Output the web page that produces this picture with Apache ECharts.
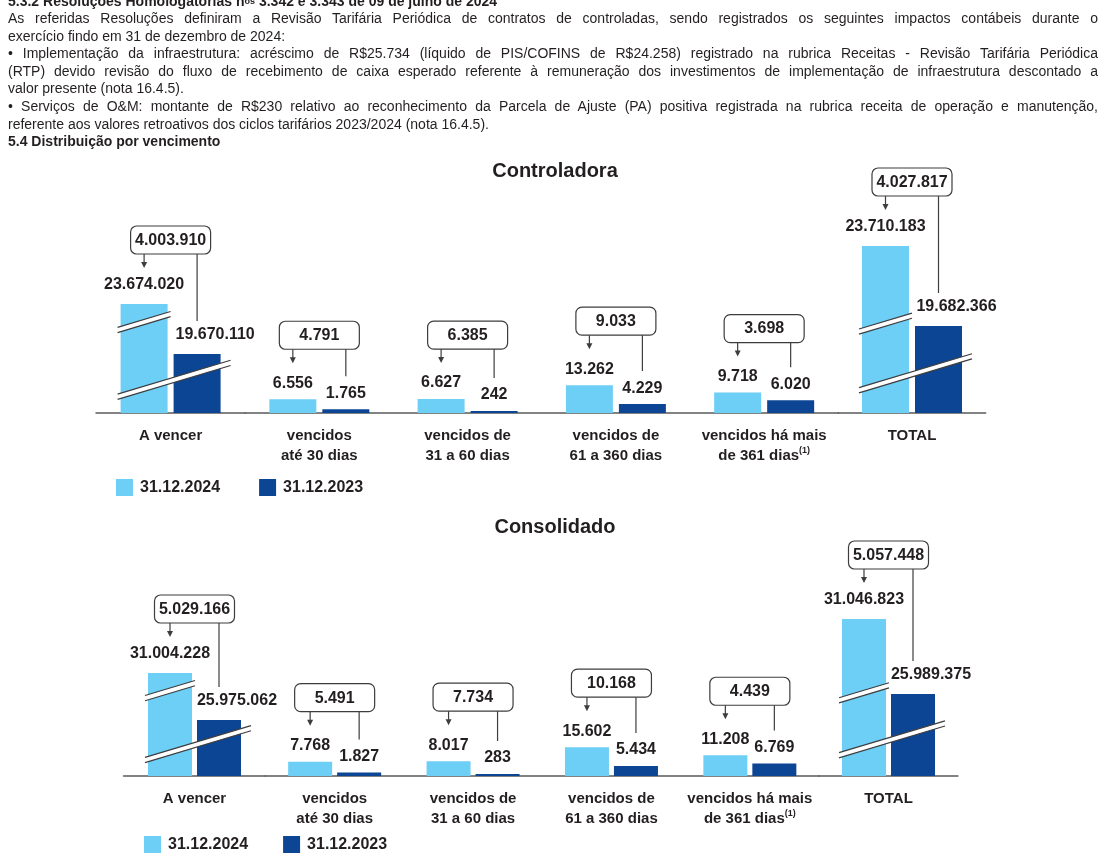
<!DOCTYPE html>
<html>
<head>
<meta charset="utf-8">
<script src="https://cdn.jsdelivr.net/npm/echarts@6/dist/echarts.min.js"></script>
<style>
html,body{margin:0;padding:0;background:#fff;}
#chart{position:absolute;left:0;top:0;width:1110px;height:856px;}
#text{position:absolute;left:8px;top:-7.5px;width:1090px;font-family:"Liberation Sans",Arial,Helvetica,sans-serif;font-size:14px;line-height:17.6px;color:#231f20;}
#text div{height:17.6px;overflow:visible;}
.j{text-align:justify;text-align-last:justify;}
.b{font-weight:bold;}
</style>
</head>
<body>
<div id="chart"></div>
<div id="text">
<div class="b">5.3.2 Resoluções Homologatórias n<span style="font-size:9px;vertical-align:top;">os</span> 3.342 e 3.343 de 09 de julho de 2024</div>
<div class="j">As referidas Resoluções definiram a Revisão Tarifária Periódica de contratos de controladas, sendo registrados os seguintes impactos contábeis durante o</div>
<div>exercício findo em 31 de dezembro de 2024:</div>
<div class="j">• Implementação da infraestrutura: acréscimo de R$25.734 (líquido de PIS/COFINS de R$24.258) registrado na rubrica Receitas - Revisão Tarifária Periódica</div>
<div class="j">(RTP) devido revisão do fluxo de recebimento de caixa esperado referente à remuneração dos investimentos de implementação de infraestrutura descontado a</div>
<div>valor presente (nota 16.4.5).</div>
<div class="j">• Serviços de O&amp;M: montante de R$230 relativo ao reconhecimento da Parcela de Ajuste (PA) positiva registrada na rubrica receita de operação e manutenção,</div>
<div>referente aos valores retroativos dos ciclos tarifários 2023/2024 (nota 16.4.5).</div>
<div class="b">5.4 Distribuição por vencimento</div>
</div>
<script>
// ---------------- DATA ----------------
const categories = ['A vencer', 'vencidos\naté 30 dias', 'vencidos de\n31 a 60 dias', 'vencidos de\n61 a 360 dias', 'vencidos há mais\nde 361 dias{sup|(1)}', 'TOTAL'];
const seriesNames = ['31.12.2024', '31.12.2023'];
const chartTitles = ['Controladora', 'Consolidado'];
const ctrl2024 = [23674020, 6556, 6627, 13262, 9718, 23710183];
const ctrl2023 = [19670110, 1765, 242, 4229, 6020, 19682366];
const ctrlDiff = [4003910, 4791, 6385, 9033, 3698, 4027817];
const cons2024 = [31004228, 7768, 8017, 15602, 11208, 31046823];
const cons2023 = [25975062, 1827, 283, 5434, 6769, 25989375];
const consDiff = [5029166, 5491, 7734, 10168, 4439, 5057448];

// ---------------- STYLE / LAYOUT ----------------
const FONT = '"Liberation Sans", Arial, Helvetica, sans-serif';
const INK = '#231f20';
const LINE = '#3d3d3f';
const LIGHT = '#6dcff6';
const DARK = '#0c4594';
const SLOPE = 0.3;

const fmt = n => String(n).replace(/\B(?=(\d{3})+(?!\d))/g, '.');

// each chart: three grids (broken "A vencer", the 4 overdue buckets, broken "TOTAL")
const layouts = [
  { v24: ctrl2024, v23: ctrl2023, diff: ctrlDiff, top: 150, bottom: 443, bw: 47, gap: 6,
    titleTop: 161, legendLeft: 116, legendTop: 479, legendGap: 39,
    grids: [{left: 96, width: 149.2}, {left: 245.2, width: 593.1}, {left: 838.3, width: 147.4}],
    scale: [{min: 14945400, k: 1.2488e-5}, {min: 0, k: 0.0021}, {min: 15302000, k: 1.9862e-5}],
    breaks: [[22232000, 16883000], null, [19803000, 16848000]] },
  { v24: cons2024, v23: cons2023, diff: consDiff, top: 505, bottom: 80, bw: 44, gap: 5,
    titleTop: 517, legendLeft: 144, legendTop: 836, legendGap: 35,
    grids: [{left: 123.55, width: 141.9}, {left: 265.45, width: 553.6}, {left: 819.05, width: 138.9}],
    scale: [{min: 19982900, k: 9.3455e-6}, {min: 0, k: 0.00185}, {min: 20459800, k: 1.48296e-5}],
    breaks: [[29121000, 22497500], null, [26070200, 22368100]] }
];
const segments = [[0, 1], [1, 5], [5, 6]];

function calloutRenderer(bw, gap) {
  const off = (bw + gap) / 2;
  return function (params, api) {
    const cat = api.value(0);
    const cs = params.coordSys;
    const base = cs.y + cs.height;
    const p24 = api.coord([cat, api.value(1)]);
    const p23 = api.coord([cat, api.value(2)]);
    const cx = p24[0];
    const y24 = Math.min(p24[1], base - 2);
    const y23 = Math.min(p23[1], base - 2);
    const boxB = y24 - 50, boxT = boxB - 28;
    const xl = cx - off, xr = cx + off;
    const lineEnd = Math.max(y23 - 33, boxB + 8);
    return { type: 'group', children: [
      { type: 'rect', shape: {x: cx - 40, y: boxT, width: 80, height: 28, r: 6},
        style: {fill: '#fff', stroke: LINE, lineWidth: 1.2} },
      { type: 'text', style: {text: fmt(api.value(3)), x: cx, y: boxT + 14.5, align: 'center', verticalAlign: 'middle',
        fontSize: 16, fontWeight: 'bold', fontFamily: FONT, fill: INK} },
      { type: 'line', shape: {x1: xl, y1: boxB, x2: xl, y2: boxB + 9}, style: {stroke: LINE, lineWidth: 1.2} },
      { type: 'polygon', shape: {points: [[xl - 3, boxB + 8], [xl + 3, boxB + 8], [xl, boxB + 14]]}, style: {fill: LINE} },
      { type: 'line', shape: {x1: xr, y1: boxB, x2: xr, y2: lineEnd}, style: {stroke: LINE, lineWidth: 1.2} }
    ]};
  };
}

function breakRenderer(bw, gap) {
  const off = (bw + gap) / 2;
  return function (params, api) {
    const cat = api.value(0);
    const pu = api.coord([cat, api.value(1)]);
    const pl = api.coord([cat, api.value(2)]);
    const x24 = pu[0] - off;
    const L = x24 - bw / 2 - 3;
    const R1 = x24 + bw / 2 + 3;
    const R2 = pu[0] + off + bw / 2 + 10;
    const mark = (yc, xr) => {
      const yAt = x => yc - SLOPE * (x - x24);
      const h = 2.6;
      return [
        { type: 'polygon', shape: {points: [[L, yAt(L) - h], [xr, yAt(xr) - h], [xr, yAt(xr) + h], [L, yAt(L) + h]]},
          style: {fill: '#fff'} },
        { type: 'line', shape: {x1: L, y1: yAt(L) - h, x2: xr, y2: yAt(xr) - h}, style: {stroke: LINE, lineWidth: 1.2} },
        { type: 'line', shape: {x1: L, y1: yAt(L) + h, x2: xr, y2: yAt(xr) + h}, style: {stroke: LINE, lineWidth: 1.2} }
      ];
    };
    return { type: 'group', children: mark(pu[1], R1).concat(mark(pl[1], R2)) };
  };
}

const option = {
  animation: false,
  backgroundColor: '#fff',
  title: [], legend: [], grid: [], xAxis: [], yAxis: [], series: []
};

const labelBase = {show: true, position: 'top', fontSize: 16, fontWeight: 'bold', color: INK, fontFamily: FONT,
  formatter: p => fmt(p.value)};

layouts.forEach((L, c) => {
  option.title.push({text: chartTitles[c], left: 'center', top: L.titleTop, padding: 0,
    textStyle: {fontSize: 20, fontWeight: 'bold', color: INK, fontFamily: FONT}});
  option.legend.push({data: seriesNames, left: L.legendLeft, top: L.legendTop, padding: 0, icon: 'rect',
    itemWidth: 17, itemHeight: 17, itemGap: L.legendGap, selectedMode: false,
    textStyle: {fontSize: 16, fontWeight: 'bold', color: INK, fontFamily: FONT, padding: [0, 0, 0, 2]}});
  const H = 856 - L.top - L.bottom;
  segments.forEach((seg, s) => {
    const gi = option.grid.length;
    option.grid.push({left: L.grids[s].left, width: L.grids[s].width, top: L.top, bottom: L.bottom,
      containLabel: false, outerBoundsMode: 'none'});
    option.xAxis.push({gridIndex: gi, type: 'category', data: categories.slice(seg[0], seg[1]),
      axisTick: {show: false}, splitLine: {show: false},
      axisLine: {lineStyle: {color: '#58595b', width: 1.5}},
      axisLabel: {interval: 0, margin: 13, fontSize: 15, fontWeight: 'bold', color: INK, fontFamily: FONT, lineHeight: 20,
        rich: {sup: {fontSize: 9, fontWeight: 'bold', color: INK, fontFamily: FONT, lineHeight: 10, padding: [0, 0, 10, 0]}}}});
    const sc = L.scale[s];
    option.yAxis.push({gridIndex: gi, type: 'value', show: false, min: sc.min, max: sc.min + H / sc.k,
      splitLine: {show: false}});
    const big = s !== 1;
    const d24 = L.v24.slice(seg[0], seg[1]);
    const d23 = L.v23.slice(seg[0], seg[1]);
    option.series.push({type: 'bar', name: seriesNames[0], xAxisIndex: gi, yAxisIndex: gi, data: d24,
      barWidth: L.bw, barGap: (L.gap / L.bw * 100) + '%', barMinHeight: 2, clip: true, silent: true,
      itemStyle: {color: LIGHT}, label: Object.assign({}, labelBase, {distance: big ? 11 : 8})});
    option.series.push({type: 'bar', name: seriesNames[1], xAxisIndex: gi, yAxisIndex: gi, data: d23,
      barWidth: L.bw, barGap: (L.gap / L.bw * 100) + '%', barMinHeight: 2, clip: true, silent: true,
      itemStyle: {color: DARK}, label: Object.assign({}, labelBase, {distance: big ? 11 : 8, offset: big ? [18, 0] : [0, 0]})});
    const cdata = [];
    for (let i = seg[0]; i < seg[1]; i++) cdata.push([i - seg[0], L.v24[i], L.v23[i], L.diff[i]]);
    option.series.push({type: 'custom', xAxisIndex: gi, yAxisIndex: gi, silent: true, z: 10,
      encode: {x: 0, y: 1}, data: cdata, renderItem: calloutRenderer(L.bw, L.gap)});
    if (L.breaks[s]) {
      option.series.push({type: 'custom', xAxisIndex: gi, yAxisIndex: gi, silent: true, z: 5,
        encode: {x: 0, y: 1}, data: [[0, L.breaks[s][0], L.breaks[s][1]]], renderItem: breakRenderer(L.bw, L.gap)});
    }
  });
});

const chart = echarts.init(document.getElementById('chart'), null, {renderer: 'canvas'});
chart.setOption(option);
</script>
</body>
</html>
